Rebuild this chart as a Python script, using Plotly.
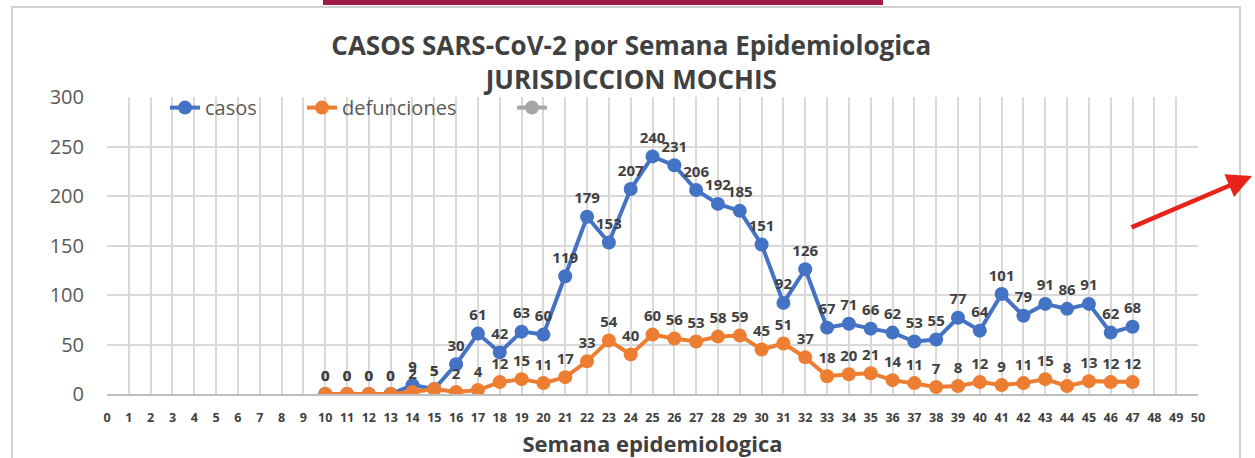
import plotly.graph_objects as go

weeks = list(range(10, 48))
casos = [0, 0, 0, 0, 9, 5, 30, 61, 42, 63, 60, 119, 179, 153, 207, 240, 231, 206, 192, 185,
         151, 92, 126, 67, 71, 66, 62, 53, 55, 77, 64, 101, 79, 91, 86, 91, 62, 68]
defunciones = [0, 0, 0, 0, 2, 5, 2, 4, 12, 15, 11, 17, 33, 54, 40, 60, 56, 53, 58, 59,
               45, 51, 37, 18, 20, 21, 14, 11, 7, 8, 12, 9, 11, 15, 8, 13, 12, 12]
x_ticks = list(range(0, 51))
y_ticks = [0, 50, 100, 150, 200, 250, 300]

BLUE = "#4472C4"
ORANGE = "#ED7D31"
GRAY = "#A5A5A5"
LABEL = "#404040"

fig = go.Figure()
fig.add_trace(go.Scatter(
    x=weeks, y=casos, name="casos", mode="lines+markers+text", legend="legend",
    line=dict(color=BLUE, width=4), marker=dict(color=BLUE, size=14),
    text=[str(v) for v in casos], textposition="top center",
    textfont=dict(family="Open Sans", size=15, color=LABEL, weight="bold"),
))
fig.add_trace(go.Scatter(
    x=weeks, y=defunciones, name="defunciones", mode="lines+markers+text", legend="legend2",
    line=dict(color=ORANGE, width=4), marker=dict(color=ORANGE, size=14),
    text=[str(v) for v in defunciones], textposition="top center",
    textfont=dict(family="Open Sans", size=15, color=LABEL, weight="bold"),
))
fig.add_trace(go.Scatter(
    x=[None], y=[None], name=" ", mode="lines+markers", legend="legend3",
    line=dict(color=GRAY, width=4), marker=dict(color=GRAY, size=14),
))

def leg(px):
    return dict(
        orientation="h", x=(px - 107) / 1091, y=1.03, xanchor="left", yanchor="top",
        bgcolor="rgba(0,0,0,0)", font=dict(family="Open Sans", size=20, color="#595959"),
    )

fig.update_layout(
    width=1255, height=458,
    margin=dict(l=107, r=57, t=97, b=64),
    paper_bgcolor="white", plot_bgcolor="white",
    font=dict(family="Open Sans", color="#595959"),
    title=dict(
        text="CASOS SARS-CoV-2 por Semana Epidemiologica<br>JURISDICCION MOCHIS",
        x=0.503, xanchor="center", y=0.879, yanchor="middle",
        font=dict(family="Open Sans", size=26, color="#404040", weight="bold"),
    ),
    legend=leg(165), legend2=leg(302), legend3=leg(512),
    showlegend=True,
)
fig.update_xaxes(
    range=[0, 50], tickmode="array", tickvals=x_ticks, ticktext=[str(t) for t in x_ticks],
    showgrid=True, gridcolor="#D9D9D9", gridwidth=1.5,
    showline=True, linecolor="#BFBFBF", linewidth=1.5, mirror=False,
    tickfont=dict(family="Open Sans", size=12.5, color="#404040", weight="bold"),
    ticklabelstandoff=11, zeroline=False, automargin=False,
    title=dict(text="Semana epidemiologica", standoff=12,
               font=dict(family="Open Sans", size=22, color="#404040", weight="bold")),
)
fig.update_yaxes(
    range=[0, 300], tickvals=y_ticks,
    showgrid=True, gridcolor="#D9D9D9", gridwidth=1.5, zeroline=False,
    showline=False, automargin=False,
    tickfont=dict(family="Open Sans", size=20, color="#595959"),
    ticklabelstandoff=22,
)

# decorations: outer frame, top bar, side arrow
fig.add_shape(type="rect", xref="paper", yref="paper",
              x0=(12 - 107) / 1091, x1=(1240 - 107) / 1091, y0=-2, y1=(394 - 7) / 297,
              line=dict(color="#D0D0D0", width=2), layer="below")
fig.add_shape(type="rect", xref="paper", yref="paper",
              x0=(323 - 107) / 1091, x1=(883 - 107) / 1091,
              y0=(394 - 5) / 297, y1=(394 + 2) / 297,
              line=dict(width=0), fillcolor="#9E1B45")
fig.add_annotation(xref="paper", yref="paper",
                   x=(1252 - 107) / 1091, y=(394 - 176) / 297,
                   ax=-122, ay=52,
                   showarrow=True, arrowhead=2, arrowsize=1.1, arrowwidth=4.5,
                   arrowcolor="#E8231A", text="")

fig.write_html("out.html", config={"displayModeBar": False},
               post_script="document.body.style.margin='0';")
